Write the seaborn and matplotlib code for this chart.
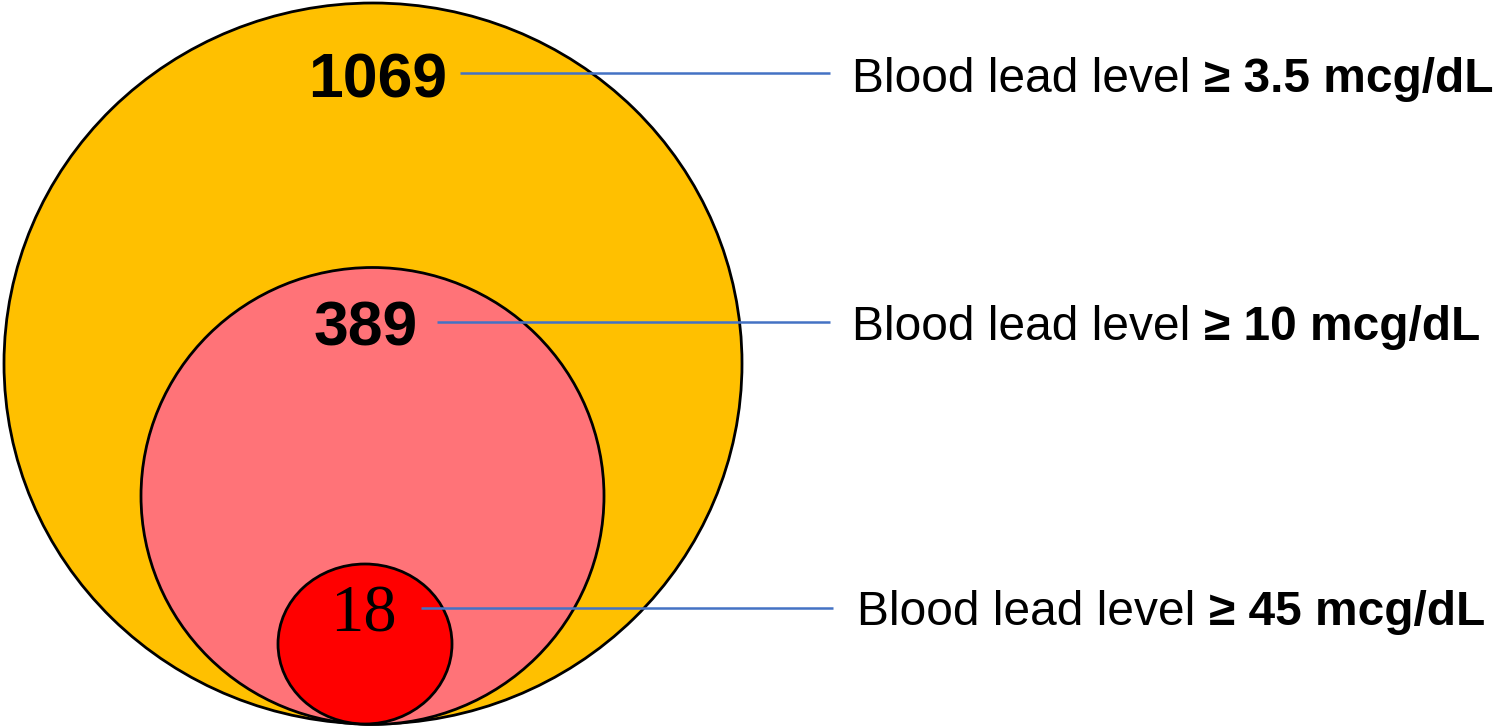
import matplotlib
matplotlib.use("Agg")
import matplotlib.pyplot as plt
from matplotlib.patches import Ellipse
import seaborn as sns

# counts of children per blood lead threshold (nested groups)
counts = [1069, 389, 18]
thresholds = ["3.5", "10", "45"]
label_prefix = "Blood lead level "
fill_colors = ["#FFC000", "#FF7378", "#FF0000"]

# layout in pixel units (figure is 1494 x 727)
centers = [(373, 363.5), (372.5, 496), (365, 644)]
widths = [738, 463, 174]
heights = [721, 457, 160]
count_pos = [(378, 98), (366, 345), (363, 632)]
count_fonts = ["Liberation Sans", "Liberation Sans", "Liberation Serif"]
count_weights = ["bold", "bold", "normal"]
count_sizes = [45, 45, 48]
line_y = [73, 322, 608]
line_x0 = [460, 437, 421]
line_x1 = [830, 830, 833]
label_x = [852, 852, 857]
label_base = [92, 340, 625]

sns.set_theme(style="white")
plt.rcParams["font.family"] = ["Liberation Sans", "DejaVu Sans"]
plt.rcParams["text.color"] = "black"

fig = plt.figure(figsize=(14.94, 7.27), dpi=100)
ax = fig.add_axes([0, 0, 1, 1])
ax.set_xlim(0, 1494)
ax.set_ylim(727, 0)
ax.axis("off")

for c, w, h, col in zip(centers, widths, heights, fill_colors):
    ax.add_patch(Ellipse(c, w, h, facecolor=col, edgecolor="black", lw=2, zorder=1))

ax.hlines(line_y, line_x0, line_x1, color="#4472C4", lw=1.8, zorder=2)

for n, (x, y), fam, wt, fs in zip(counts, count_pos, count_fonts, count_weights, count_sizes):
    ax.text(x, y, str(n), ha="center", va="baseline", fontsize=fs,
            family=[fam, "DejaVu Sans"], weight=wt, color="black", zorder=3)

fig.canvas.draw()
renderer = fig.canvas.get_renderer()
for th, x, y in zip(thresholds, label_x, label_base):
    t = ax.text(x, y, label_prefix, ha="left", va="baseline", fontsize=34.5,
                color="black", zorder=3)
    bb = t.get_window_extent(renderer=renderer)
    x_end = ax.transData.inverted().transform((bb.x1, bb.y0))[0]
    ax.text(x_end, y, "\u2265 " + th + " mcg/dL", ha="left", va="baseline",
            fontsize=34.5, weight="bold", color="black", zorder=3)

fig.savefig("out.png", dpi=100)
